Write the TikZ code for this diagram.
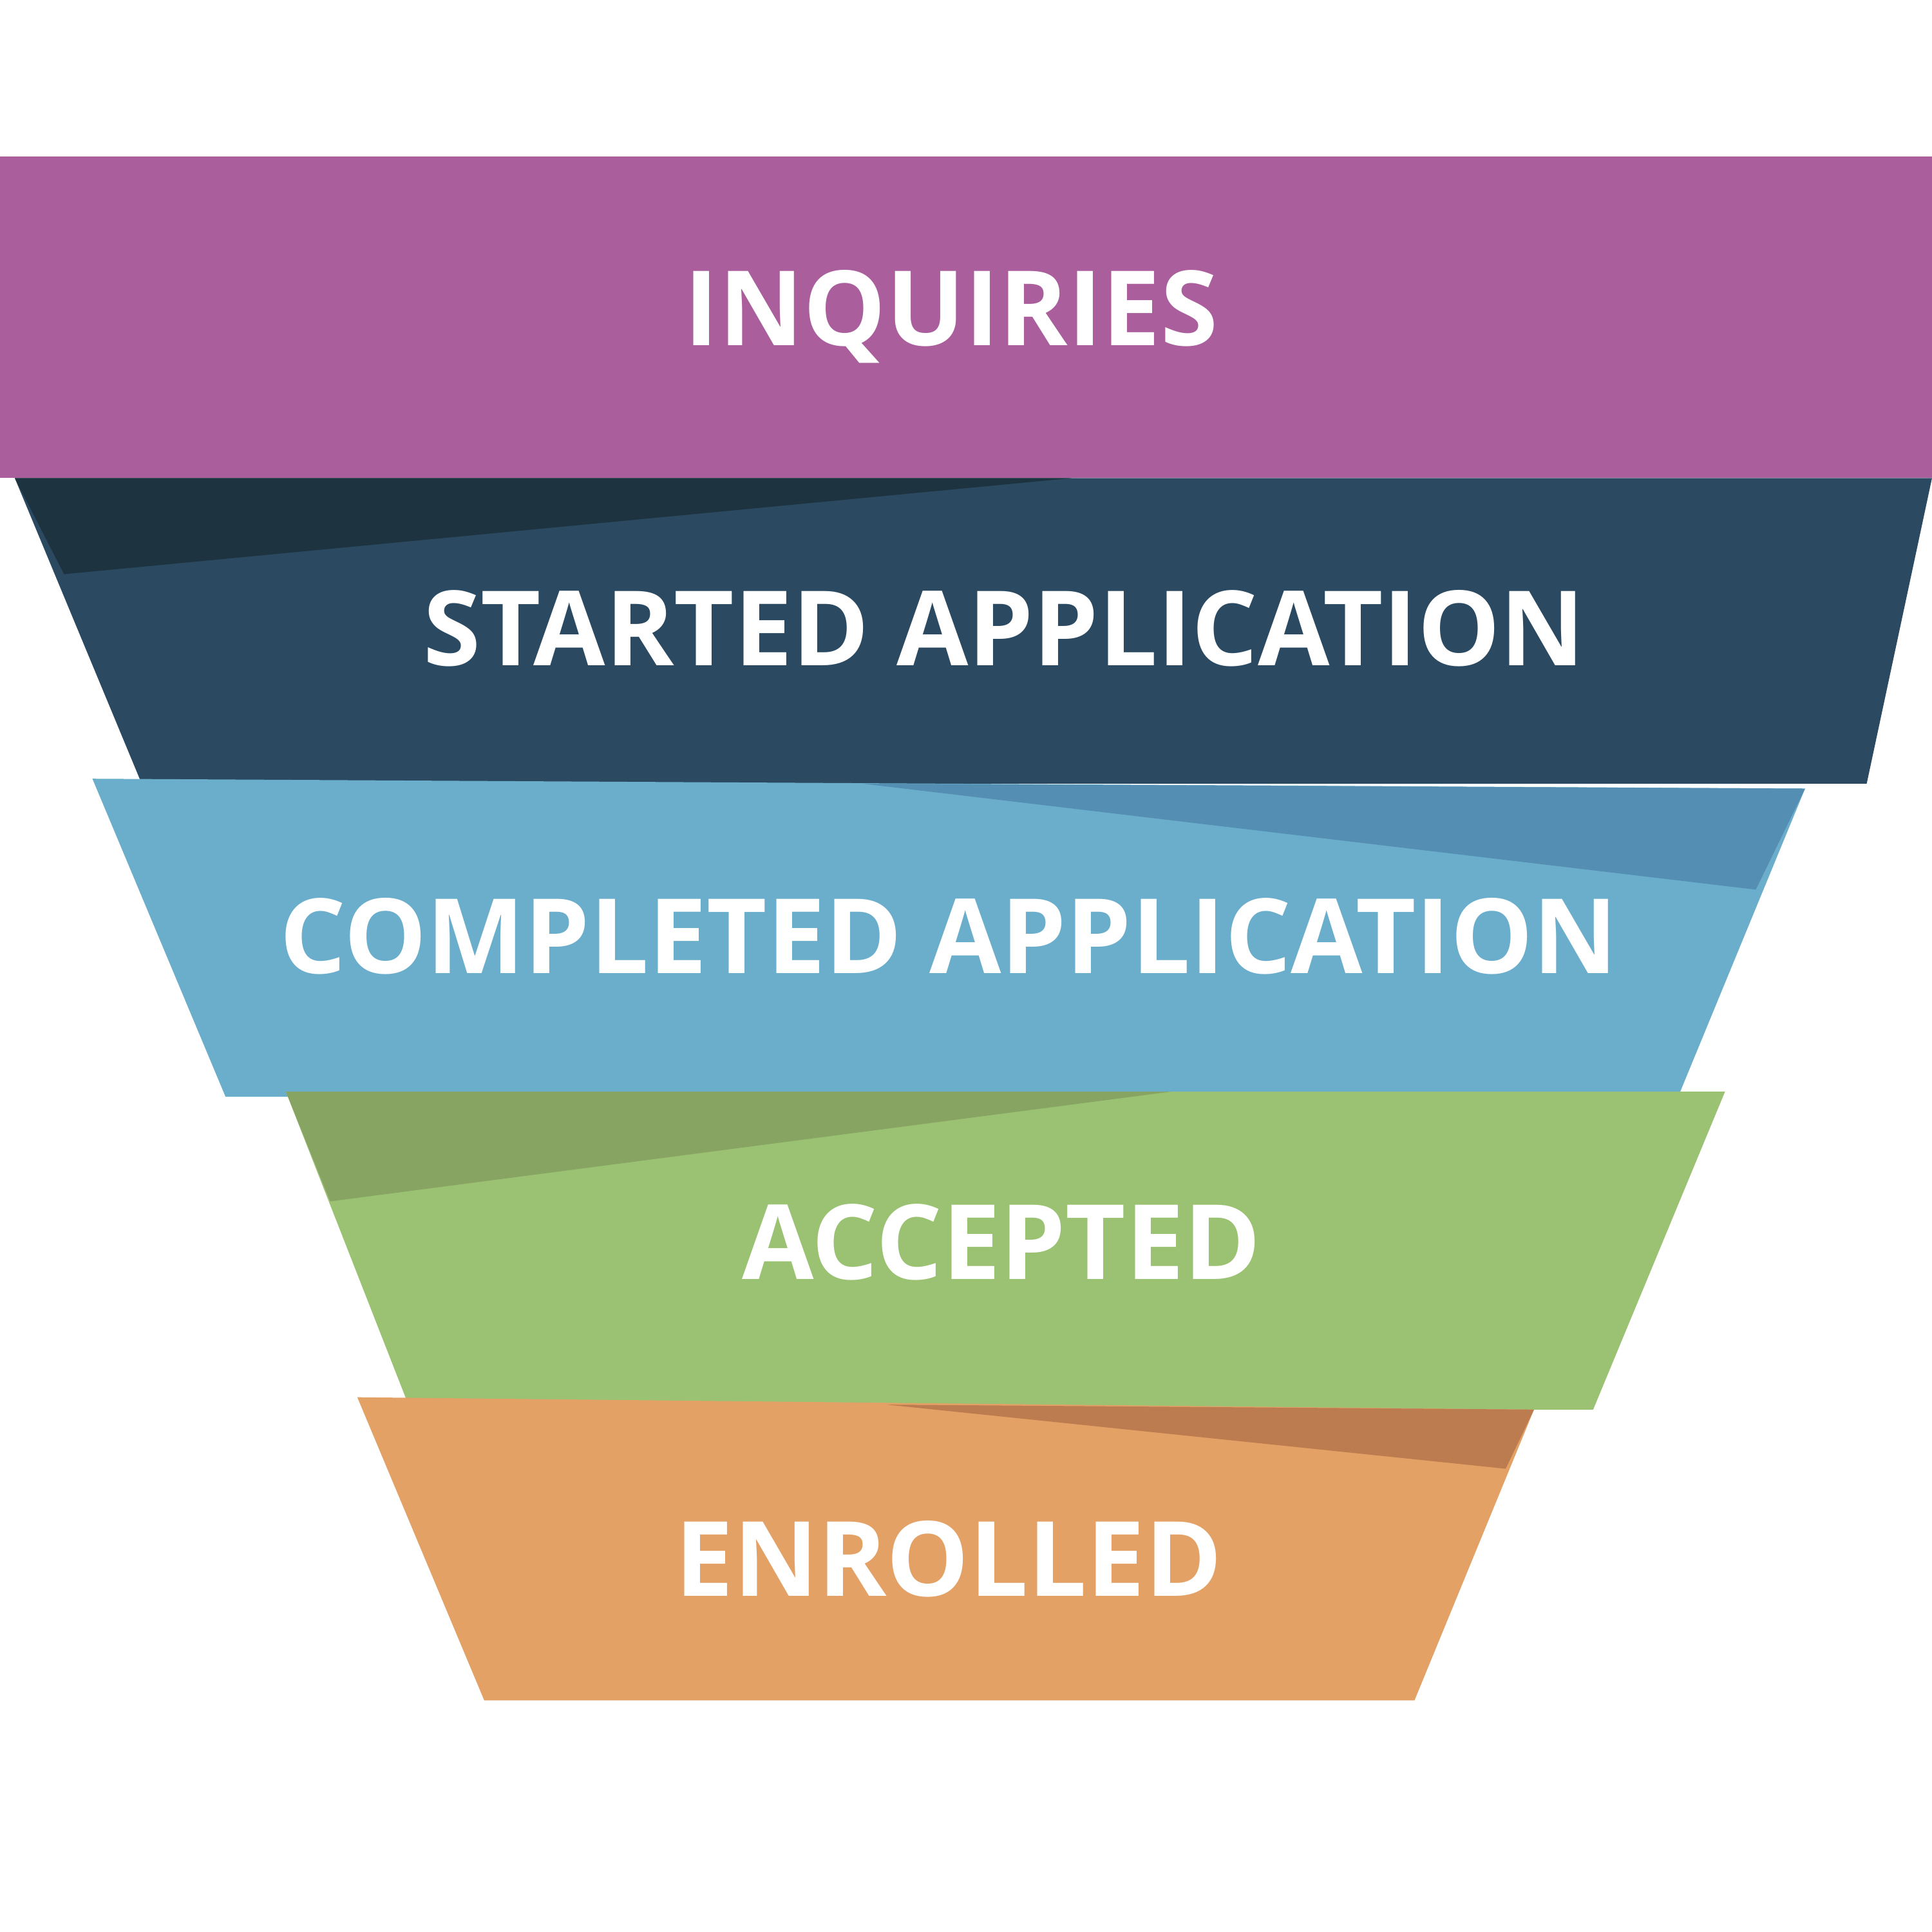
\documentclass[tikz,border=0pt]{standalone}
\usepackage{fontspec}
\setmainfont{Open Sans}
\definecolor{inqcol}{HTML}{AA5E9C}
\definecolor{stacol}{HTML}{2B4A62}
\definecolor{stadark}{HTML}{1E3340}
\definecolor{comcol}{HTML}{6BAECB}
\definecolor{comdark}{HTML}{548EB2}
\definecolor{acccol}{HTML}{9BC173}
\definecolor{accdark}{HTML}{87A462}
\definecolor{enrcol}{HTML}{E4A166}
\definecolor{enrdark}{HTML}{BD7C4F}
\begin{document}
\begin{tikzpicture}[
  x=0.01cm, y=-0.01cm,
  every node/.style={text=white, font=\fontsize{24}{28}\selectfont\bfseries}
]
\useasboundingbox (0,0) rectangle (1568,1568);

% Inquiries
\fill[inqcol] (0,127) rectangle (1568,388);
\node (inq) at (772,257) {INQUIRIES};

% Started application
\fill[stacol] (12,388) -- (1568,388) -- (1515,636) -- (115,636) -- cycle;
\fill[stadark] (12,388) -- (870,388) -- (52,466) -- cycle;
\node (sta) at (815,510) {STARTED APPLICATION};

% Completed application
\fill[comcol] (75,632) -- (1465,640) -- (1362,890) -- (183,890) -- cycle;
\fill[comdark] (700,636) -- (1465,640) -- (1425,722) -- cycle;
\node (com) at (770,760) {COMPLETED APPLICATION};

% Accepted
\fill[acccol] (232,886) -- (1400,886) -- (1293,1144) -- (333,1144) -- cycle;
\fill[accdark] (232,886) -- (950,886) -- (268,975) -- cycle;
\node (acc) at (813,1008) {ACCEPTED};

% Enrolled
\fill[enrcol] (290,1134) -- (1245,1144) -- (1148,1380) -- (393,1380) -- cycle;
\fill[enrdark] (720,1140) -- (1245,1144) -- (1222,1192) -- cycle;
\node (enr) at (770,1265) {ENROLLED};
\end{tikzpicture}
\end{document}
